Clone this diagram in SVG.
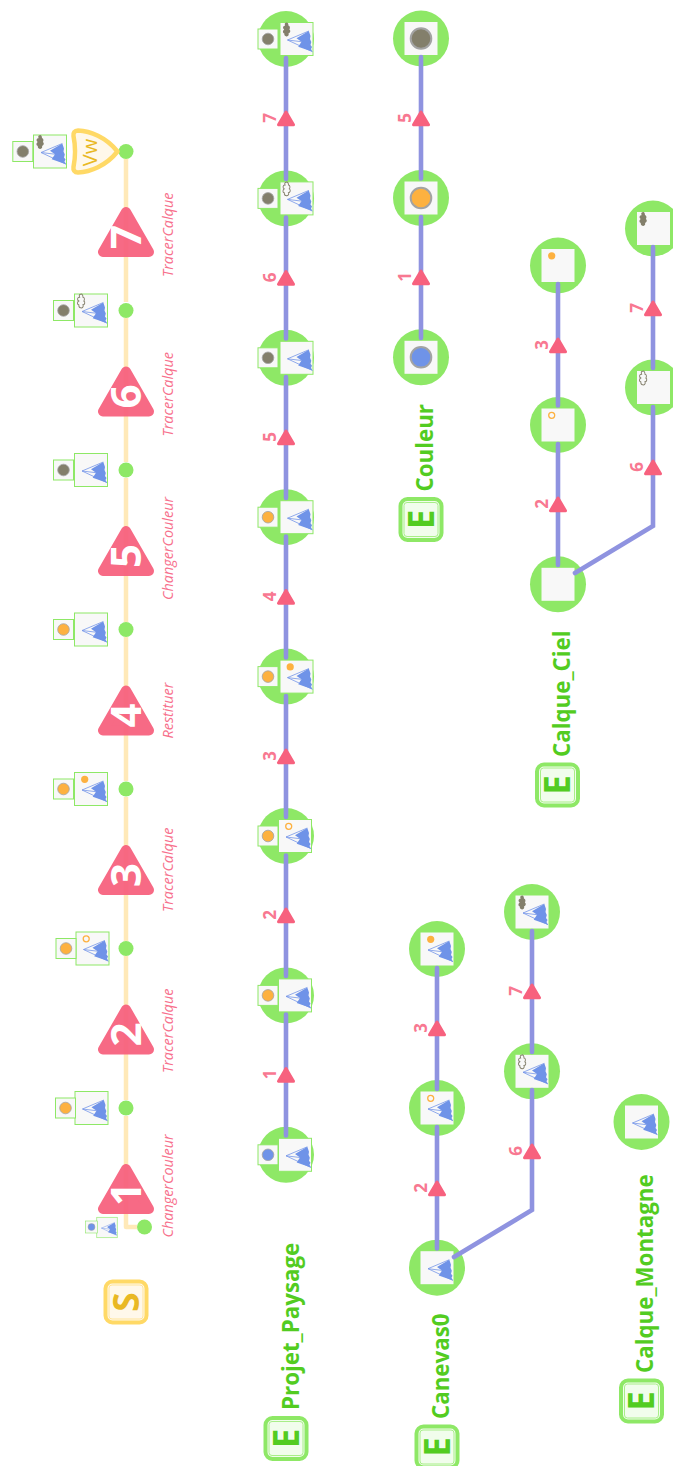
<svg xmlns="http://www.w3.org/2000/svg" width="673" height="1466" viewBox="0 0 673 1466">
<style>
.c{fill:#8ee866}
.big{fill:#f8f8f8;stroke:#8ee866;stroke-width:1}
.plain{fill:#f8f8f8}
.small{fill:#f8f8f8;stroke:#8ee866;stroke-width:1}
.dot{stroke:#a3a3a3;stroke-width:.8}
.ring{stroke:#a3a3a3;stroke-width:2}
.g{fill:#837f6b}
.o{fill:#fdb140}
.b{fill:#6f93e8}
.edge{fill:none;stroke:#8f93e0;stroke-width:4.6;stroke-linecap:round;stroke-linejoin:miter}
.flow{fill:none;stroke:#ffe9b8;stroke-width:4.5;stroke-linejoin:round}
.tri{fill:#f7617e;stroke:#f7617e;stroke-width:3;stroke-linejoin:round}
.bigtri{fill:#f7617e;stroke:#f7617e;stroke-width:10;stroke-linejoin:round;opacity:.94}
text{font-family:"Open Sans","Noto Sans",sans-serif}
.num{font-size:17px;font-weight:700;fill:#f7617e;opacity:.85;text-anchor:middle}
.bn{font-size:42px;font-weight:700;fill:#fff;text-anchor:middle}
.act{font-size:14.400px;font-style:italic;fill:#f7708c}
.name{font-size:22.300px;font-weight:700;fill:#52cc21}
.bE{font-size:35px;font-weight:700;fill:#52cc21;text-anchor:middle}
.bS{font-size:35px;font-weight:700;fill:#e9b824;text-anchor:middle}
.vw{font-size:20px;fill:#e9b824;text-anchor:middle}
</style>
<defs>
<g id="mtn"><path d="M12.300,-8 L-9,1 L16,12.700 M-9,1 L5,2.700" fill="none" stroke="#7596e8" stroke-width=".8"/><path d="M12.300,-8 L0,-.7 L5,2.700 L1.700,7.700 L16,12.700 L14.500,10 L15.500,8 L14,6 L14.800,3 L13.500,0 L14,-3 Z" fill="#6f93e8"/></g>
<path id="cl" d="M-1,-7 C1,-8 2,-6 2,-4 C4,-4 4,-1 3,0 C5,1 4,4 2,4 C3,6 1,8 -1,7 C-3,7 -3,5 -3,4 C-5,4 -5,1 -3,0 C-5,-1 -5,-4 -2,-4 C-3,-6 -2,-7 -1,-7Z"/>
<use id="cf" href="#cl" transform="translate(-9.700,-9.500) scale(.85,.95)" fill="#837f6b"/>
<use id="co" href="#cl" transform="translate(-9.700,-9.500) scale(.85,.95)" fill="none" stroke="#837f6b" stroke-width="1.100"/>
<circle id="sf" cx="-6.300" cy="-9.700" r="3.600" fill="#fdb140"/>
<circle id="so" cx="-6.300" cy="-9.700" r="3" fill="none" stroke="#fdb140" stroke-width="1.300"/>
<rect id="bg" x="-16.500" y="-16.500" width="33" height="33" class="big"/>
<rect id="pl" x="-16.500" y="-16.500" width="33" height="33" class="plain"/>
<g id="aG"><rect x="-10" y="-10" width="20" height="20" class="small"/><circle r="5.800" class="g dot"/></g>
<g id="aO"><rect x="-10" y="-10" width="20" height="20" class="small"/><circle r="5.800" class="o dot"/></g>
<g id="aB"><rect x="-10" y="-10" width="20" height="20" class="small"/><circle r="5.800" class="b dot"/></g>
<g id="E"><rect x="-20.500" y="-20.500" width="41" height="41" rx="7" fill="#f1fdec" stroke="#8ee866" stroke-width="4"/><rect x="-17" y="-17" width="34" height="34" rx="3" fill="none" stroke="#a8ee88" stroke-width="1"/><text class="bE" transform="rotate(-90)" y="12.500">E</text></g>
<polygon id="ar" points="0,2 -7.500,14.700 7.500,14.700" class="tri"/>
<polygon id="bt" points="0,6 -23,46 23,46" class="bigtri"/>
</defs>

<g id="S-badge" transform="translate(126,1302)"><rect x="-20.500" y="-20.500" width="41" height="41" rx="7" fill="#fff8ea" stroke="#ffd966" stroke-width="4"/><rect x="-17" y="-17" width="34" height="34" rx="3" fill="none" stroke="#ffe49a" stroke-width="1"/><text class="bS" transform="rotate(-90)" y="12.500">S</text></g>

<g id="state-end"><circle class="c" cx="126" cy="151.500" r="7.500"/><path d="M117.500,151.500 C106,137 90,131 78,130.500 C74.500,130.500 73,133 73.500,136 C75.500,146 75.500,157 73.500,167 C73,170 74.500,172.500 78,172.500 C90,172 106,166 117.500,151.500 Z" fill="#fff8ea" stroke="#ffd966" stroke-width="4.500" stroke-linejoin="round"/><text class="vw" transform="translate(96.700,152.500) rotate(-90)">Vw</text><g transform="translate(50,151.500)"><use href="#bg"/><use href="#mtn"/><use href="#cf"/></g><use href="#aG" transform="translate(22.800,151.500)"/></g>
<g id="state-6"><circle class="c" cx="126" cy="310.500" r="7.500"/><g transform="translate(91,310.500)"><use href="#bg"/><use href="#mtn"/><use href="#co"/></g><use href="#aG" transform="translate(63.500,310.500)"/></g>
<g id="state-5"><circle class="c" cx="126" cy="470" r="7.500"/><g transform="translate(91,470)"><use href="#bg"/><use href="#mtn"/></g><use href="#aG" transform="translate(63.500,470)"/></g>
<g id="state-4"><circle class="c" cx="126" cy="629.500" r="7.500"/><g transform="translate(91,629.500)"><use href="#bg"/><use href="#mtn"/></g><use href="#aO" transform="translate(63.500,629.500)"/></g>
<g id="state-3"><circle class="c" cx="126" cy="789" r="7.500"/><g transform="translate(91,789)"><use href="#bg"/><use href="#mtn"/><use href="#sf"/></g><use href="#aO" transform="translate(63.500,789)"/></g>
<g id="state-2"><circle class="c" cx="126" cy="948.500" r="7.500"/><g transform="translate(92.500,948.500)"><use href="#bg"/><use href="#mtn"/><use href="#so"/></g><use href="#aO" transform="translate(66,948.500)"/></g>
<g id="state-1"><circle class="c" cx="126" cy="1108" r="7.500"/><g transform="translate(91.500,1108)"><use href="#bg"/><use href="#mtn"/></g><use href="#aO" transform="translate(65.500,1108)"/></g>
<g id="state-0"><circle class="c" cx="144.500" cy="1227" r="7.500"/><g transform="translate(107,1227.500) scale(.62)"><use href="#bg"/><use href="#mtn"/></g><use href="#aB" transform="translate(91.500,1227) scale(.6)"/></g>

<g id="pp-7" transform="translate(286,39)"><circle class="c" r="28"/><g transform="translate(10.500,0)"><use href="#bg"/><use href="#mtn"/><use href="#cf"/></g><use href="#aG" transform="translate(-18,0)"/></g>
<g id="pp-6" transform="translate(286,198.400)"><circle class="c" r="28"/><g transform="translate(10.500,0)"><use href="#bg"/><use href="#mtn"/><use href="#co"/></g><use href="#aG" transform="translate(-18,0)"/></g>
<g id="pp-5" transform="translate(286,357.800)"><circle class="c" r="28"/><g transform="translate(10.500,0)"><use href="#bg"/><use href="#mtn"/></g><use href="#aG" transform="translate(-18,0)"/></g>
<g id="pp-4" transform="translate(286,517.200)"><circle class="c" r="28"/><g transform="translate(10.500,0)"><use href="#bg"/><use href="#mtn"/></g><use href="#aO" transform="translate(-18,0)"/></g>
<g id="pp-3" transform="translate(286,676.600)"><circle class="c" r="28"/><g transform="translate(10.500,0)"><use href="#bg"/><use href="#mtn"/><use href="#sf"/></g><use href="#aO" transform="translate(-18,0)"/></g>
<g id="pp-2" transform="translate(286,836)"><circle class="c" r="28"/><g transform="translate(9,0)"><use href="#bg"/><use href="#mtn"/><use href="#so"/></g><use href="#aO" transform="translate(-18,0)"/></g>
<g id="pp-1" transform="translate(286,995.400)"><circle class="c" r="28"/><g transform="translate(9,0)"><use href="#bg"/><use href="#mtn"/></g><use href="#aO" transform="translate(-18,0)"/></g>
<g id="pp-0" transform="translate(286,1154.800)"><circle class="c" r="28"/><g transform="translate(9,0)"><use href="#bg"/><use href="#mtn"/></g><use href="#aB" transform="translate(-18,0)"/></g>

<g id="co-5" transform="translate(421,38.500)"><circle class="c" r="28"/><use href="#pl"/><circle r="10.300" class="g ring"/></g>
<g id="co-1" transform="translate(421,198)"><circle class="c" r="28"/><use href="#pl"/><circle r="10.300" class="o ring"/></g>
<g id="co-0" transform="translate(421,357.300)"><circle class="c" r="28"/><use href="#pl"/><circle r="10.300" class="b ring"/></g>

<g id="ci-3" transform="translate(558,265.500)"><circle class="c" r="28"/><use href="#pl"/><use href="#sf"/></g>
<g id="ci-2" transform="translate(558,425)"><circle class="c" r="28"/><use href="#pl"/><use href="#so"/></g>
<g id="ci-0" transform="translate(558,584.300)"><circle class="c" r="28"/><use href="#pl"/></g>
<g id="ci-7" transform="translate(653,228.500)"><circle class="c" r="28"/><rect x="-16" y="-16.500" width="33" height="33" class="plain"/><use href="#cf"/></g>
<g id="ci-6" transform="translate(653,387.500)"><circle class="c" r="28"/><rect x="-16" y="-16.500" width="33" height="33" class="plain"/><use href="#co"/></g>

<g id="ca-3" transform="translate(437,949)"><circle class="c" r="28"/><use href="#pl"/><use href="#mtn"/><use href="#sf"/></g>
<g id="ca-2" transform="translate(437,1108)"><circle class="c" r="28"/><use href="#pl"/><use href="#mtn"/><use href="#so"/></g>
<g id="ca-0" transform="translate(437,1267.700)"><circle class="c" r="28"/><use href="#pl"/><use href="#mtn"/></g>
<g id="ca-7" transform="translate(532,912)"><circle class="c" r="28"/><use href="#pl"/><use href="#mtn"/><use href="#cf"/></g>
<g id="ca-6" transform="translate(532,1071.300)"><circle class="c" r="28"/><use href="#pl"/><use href="#mtn"/><use href="#co"/></g>

<g id="mo-0" transform="translate(641.500,1122)"><circle class="c" r="28"/><use href="#pl"/><use href="#mtn"/></g>

<g id="connectors">
<path class="flow" d="M126,159V302M126,318V462M126,478V622M126,637V781M126,797V941M126,956V1100M126,1116V1227H137"/>
<path class="edge" d="M286,58V179M286,217.500V338.500M286,377V498M286,536.500V657.500M286,696V817M286,855.500V976M286,1014.500V1135.500"/>
<path class="edge" d="M421,57V178.500M421,217V338"/>
<path class="edge" d="M558,284V405.500M558,444V565"/>
<path class="edge" d="M653,247V368M653,407V526L575,573"/>
<path class="edge" d="M437,968V1089M437,1127V1248.500"/>
<path class="edge" d="M532,931V1052M532,1090V1210L454,1257"/>
</g>

<g id="step-marks">
<g transform="translate(126,206)"><use href="#bt"/><text class="bn" transform="translate(15,31) rotate(-90)">7</text></g>
<g transform="translate(126,365.500)"><use href="#bt"/><text class="bn" transform="translate(15,31) rotate(-90)">6</text></g>
<g transform="translate(126,525)"><use href="#bt"/><text class="bn" transform="translate(15,31) rotate(-90)">5</text></g>
<g transform="translate(126,684.500)"><use href="#bt"/><text class="bn" transform="translate(15,31) rotate(-90)">4</text></g>
<g transform="translate(126,844)"><use href="#bt"/><text class="bn" transform="translate(15,31) rotate(-90)">3</text></g>
<g transform="translate(126,1003.500)"><use href="#bt"/><text class="bn" transform="translate(15,31) rotate(-90)">2</text></g>
<g transform="translate(126,1163)"><use href="#bt"/><text class="bn" transform="translate(15,31) rotate(-90)">1</text></g>
<text class="act" transform="translate(172.500,277) rotate(-90)">TracerCalque</text>
<text class="act" transform="translate(172.500,436.500) rotate(-90)">TracerCalque</text>
<text class="act" transform="translate(172.500,600) rotate(-90)">ChangerCouleur</text>
<text class="act" transform="translate(172.500,738.500) rotate(-90)">Restituer</text>
<text class="act" transform="translate(172.500,912) rotate(-90)">TracerCalque</text>
<text class="act" transform="translate(172.500,1073) rotate(-90)">TracerCalque</text>
<text class="act" transform="translate(172.500,1237.500) rotate(-90)">ChangerCouleur</text>
</g>

<g id="edge-labels">
<use href="#ar" x="286" y="110"/><text class="num" transform="translate(275.500,118) rotate(-90)">7</text>
<use href="#ar" x="286" y="269.500"/><text class="num" transform="translate(275.500,277.500) rotate(-90)">6</text>
<use href="#ar" x="286" y="429"/><text class="num" transform="translate(275.500,437) rotate(-90)">5</text>
<use href="#ar" x="286" y="588.500"/><text class="num" transform="translate(275.500,596.500) rotate(-90)">4</text>
<use href="#ar" x="286" y="748"/><text class="num" transform="translate(275.500,756) rotate(-90)">3</text>
<use href="#ar" x="286" y="907"/><text class="num" transform="translate(275.500,915) rotate(-90)">2</text>
<use href="#ar" x="286" y="1066.500"/><text class="num" transform="translate(275.500,1074.500) rotate(-90)">1</text>
<use href="#ar" x="421" y="110"/><text class="num" transform="translate(410.500,118) rotate(-90)">5</text>
<use href="#ar" x="421" y="269"/><text class="num" transform="translate(410.500,277) rotate(-90)">1</text>
<use href="#ar" x="558" y="337"/><text class="num" transform="translate(547.500,345) rotate(-90)">3</text>
<use href="#ar" x="558" y="496"/><text class="num" transform="translate(547.500,504) rotate(-90)">2</text>
<use href="#ar" x="653" y="300"/><text class="num" transform="translate(642.500,308) rotate(-90)">7</text>
<use href="#ar" x="653" y="459"/><text class="num" transform="translate(642.500,467) rotate(-90)">6</text>
<use href="#ar" x="437" y="1020"/><text class="num" transform="translate(426.500,1028) rotate(-90)">3</text>
<use href="#ar" x="437" y="1180"/><text class="num" transform="translate(426.500,1188) rotate(-90)">2</text>
<use href="#ar" x="532" y="983"/><text class="num" transform="translate(521.500,991) rotate(-90)">7</text>
<use href="#ar" x="532" y="1143"/><text class="num" transform="translate(521.500,1151) rotate(-90)">6</text>
</g>

<g id="entity-Projet_Paysage"><use href="#E" transform="translate(286,1438.500)"/><text class="name" transform="translate(298.500,1410) rotate(-90)">Projet_Paysage</text></g>
<g id="entity-Canevas0"><use href="#E" transform="translate(437,1447)"/><text class="name" transform="translate(449,1419) rotate(-90)">Canevas0</text></g>
<g id="entity-Couleur"><use href="#E" transform="translate(421,519.500)"/><text class="name" transform="translate(433,491.500) rotate(-90)">Couleur</text></g>
<g id="entity-Calque_Ciel"><use href="#E" transform="translate(557.500,785)"/><text class="name" transform="translate(570,757) rotate(-90)">Calque_Ciel</text></g>
<g id="entity-Calque_Montagne"><use href="#E" transform="translate(641.500,1401)"/><text class="name" transform="translate(653,1373) rotate(-90)">Calque_Montagne</text></g>
</svg>
